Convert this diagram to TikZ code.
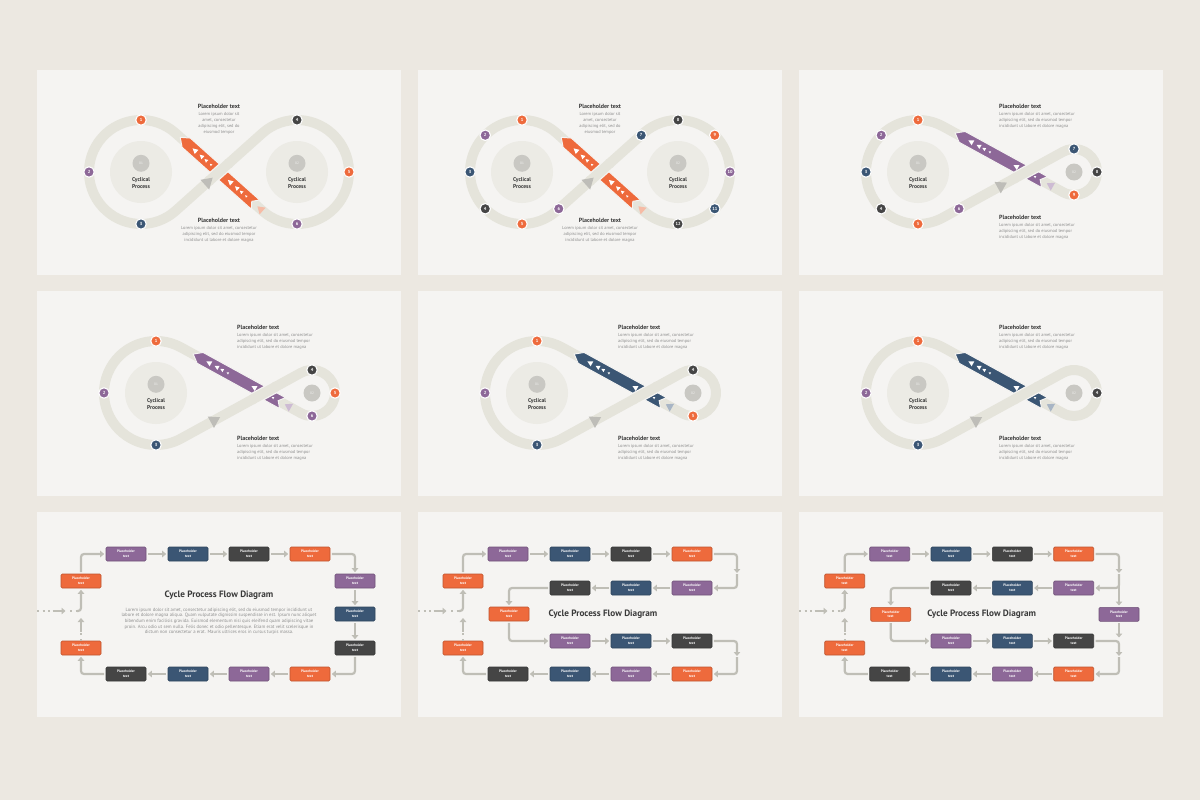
\documentclass[tikz,border=0pt]{standalone}
\usepackage{fontspec}
\setmainfont{PT Sans}
\usetikzlibrary{arrows.meta}
\definecolor{outerbg}{HTML}{ECE8E1}
\definecolor{slidebg}{HTML}{F5F4F2}
\definecolor{trk}{HTML}{E5E4DB}
\definecolor{bigc}{HTML}{ECEBE5}
\definecolor{smallc}{HTML}{C9C8C3}
\definecolor{trigray}{HTML}{BEBDB8}
\definecolor{cor}{HTML}{EE6A3C}
\definecolor{cpu}{HTML}{8D6898}
\definecolor{cnv}{HTML}{3B5674}
\definecolor{cdk}{HTML}{454545}
\definecolor{lor}{HTML}{F6BBA5}
\definecolor{lpu}{HTML}{CDBBD3}
\definecolor{lnv}{HTML}{A8B5C5}
\definecolor{ttl}{HTML}{3A3A3A}
\definecolor{bdy}{HTML}{8E8E8E}
\definecolor{flw}{HTML}{BFBEB6}
\tikzset{
 numn/.style={circle, minimum size=10.5pt, inner sep=0pt, draw=white, line width=1.1pt, text=white, font=\fontsize{4.4}{5}\selectfont\bfseries},
 trackline/.style={draw=trk, line width=10pt},
 bigcirc/.style={circle, fill=bigc, minimum size=62pt, inner sep=0pt},
 smallcirc/.style={circle, fill=smallc, minimum size=17pt, inner sep=0pt, text=white!80!smallc, font=\fontsize{3.4}{4}\selectfont},
 cyctext/.style={font=\fontsize{5.6}{7}\selectfont\bfseries, text=ttl, align=center, inner sep=0pt},
 phtitle/.style={font=\fontsize{6}{7}\selectfont\bfseries, text=ttl, inner sep=0pt},
 phbody/.style={font=\fontsize{4.4}{6}\selectfont, text=bdy, inner sep=0pt},
 pbox/.style={rectangle, rounded corners=1.2pt, minimum width=40pt, minimum height=14pt, inner sep=0pt, line width=0.6pt, text=white, font=\fontsize{3.5}{4.6}\selectfont\bfseries, align=center},
 flow/.style={draw=flw, line width=2.2pt, -{Triangle[length=4pt,width=6.5pt]}, rounded corners=3pt, shorten <=1.5pt, shorten >=1.5pt},
 dots/.style={draw=flw, line width=2.2pt, dash pattern=on 2pt off 3.5pt},
 ftitle/.style={font=\fontsize{9.2}{10}\selectfont\bfseries, text=ttl, inner sep=0pt},
 fbody/.style={font=\fontsize{4.7}{5.6}\selectfont, text=bdy, inner sep=0pt, align=center},
 slide/.style={fill=slidebg}
}
\newcommand{\numdot}[4]{\node[numn, fill=#3] (#1) at (#2) {#4};}
\newcommand{\cycgrp}[3]{%
 \node[bigcirc] (#1b) at (#2,102) {};
 \node[smallcirc] (#1s) at (#2,93.3) {#3};
 \node[cyctext] (#1t) at (#2,113.5) {Cyclical\\Process};}
\newcommand{\symtrack}{\draw[trackline] (138.67,63.24) arc[start angle=-48.19,end angle=-311.81,radius=52] -- (225.33,63.24) arc[start angle=228.19,end angle=491.81,radius=52] -- cycle;}
\newcommand{\symarrow}[2]{%
 \begin{scope}[shift={(182,102)},rotate=221.81]
  \fill[#1, draw=slidebg, line width=1pt] (-49,-6.2) -- (-44,0) -- (-49,6.2) -- (44,6.2) -- (52,0) -- (44,-6.2) -- cycle;
  \foreach \p/\s in {32.6/2.8,23.6/2.3,17.6/1.8,11.1/1.2,-14.7/2.8,-23.7/2.3,-29.7/1.8,-36.2/1.2}{\fill[white] (\p+\s,0) -- (\p-0.9*\s,\s) -- (\p-0.9*\s,-\s) -- cycle;}
  \fill[#2] (-51.5,0) -- (-58.5,4.5) -- (-58.5,-4.5) -- cycle;
 \end{scope}
 \begin{scope}[shift={(182,102)},rotate=-41.81]
  \draw[slidebg, line width=12.5pt] (-12,0) -- (12,0);
  \draw[trackline] (-14,0) -- (14,0);
  \fill[trigray] (-8.5,0) -- (-19,6.5) -- (-19,-6.5) -- cycle;
 \end{scope}}
\newcommand{\asymtrack}{\draw[trackline] (143.99,56.40) arc[start angle=-61.26,end angle=-298.74,radius=52] -- (263.94,81.83) arc[start angle=241.26,end angle=478.74,radius=23] -- cycle;}
\newcommand{\asymarrow}[3]{%
 \begin{scope}[shift={(227.16,102)},rotate=208.74]
  \fill[#1, draw=slidebg, line width=1pt] (-21,-6.2) -- (-16,0) -- (-21,6.2) -- (73,6.2) -- (81,0) -- (73,-6.2) -- cycle;
  \foreach \p/\s in {63.2/2.8,54.2/2.3,48.2/1.8,41.7/1.2,11.7/2.8,2.7/2.3,-3.3/1.8,-9.8/1.2}{\fill[white] (\p+\s,0) -- (\p-0.9*\s,\s) -- (\p-0.9*\s,-\s) -- cycle;}
  \fill[#2] (-23.5,0) -- (-30.5,4.5) -- (-30.5,-4.5) -- cycle;
 \end{scope}
 \begin{scope}[shift={(227.16,102)},rotate=-28.74]
  \draw[slidebg, line width=12.5pt] (-12,0) -- (12,0);
  \draw[trackline] (-14,0) -- (14,0);
  \fill[trigray] (#3+5.5,0) -- (#3-5,6.5) -- (#3-5,-6.5) -- cycle;
 \end{scope}}
\newcommand{\symtexts}[1]{%
 \node[phtitle] (#1ta) at (182,36.7) {Placeholder text};
 \node[phbody, anchor=north, align=center] (#1tb) at (182,41.8) {Lorem ipsum dolor sit\\amet, consectetur\\adipiscing elit, sed do\\eiusmod tempor};
 \node[phtitle] (#1tc) at (182,150) {Placeholder text};
 \node[phbody, anchor=north, align=center] (#1td) at (182,155.8) {Lorem ipsum dolor sit amet, consectetur\\adipiscing elit, sed do eiusmod tempor\\incididunt ut labore et dolore magna};}
\newcommand{\asymtexts}[1]{%
 \node[phtitle, anchor=west] (#1ta) at (200,36.7) {Placeholder text};
 \node[phbody, anchor=north west, align=left] (#1tb) at (200,41.8) {Lorem ipsum dolor sit amet, consectetur\\adipiscing elit, sed do eiusmod tempor\\incididunt ut labore et dolore magna};
 \node[phtitle, anchor=west] (#1tc) at (200,147.7) {Placeholder text};
 \node[phbody, anchor=north west, align=left] (#1td) at (200,152.8) {Lorem ipsum dolor sit amet, consectetur\\adipiscing elit, sed do eiusmod tempor\\incididunt ut labore et dolore magna};}
\newcommand{\flowbox}[3]{\node[pbox, fill=#2, draw=#2!80!black] (#1) at (#3) {Placeholder\\text};}
\newcommand{\entry}[2]{% prefix, x of column
 \coordinate (#1e1) at (0,99); \coordinate (#1e2) at (15,99);
 \coordinate (#1e3) at (15.5,99); \coordinate (#1e4) at (30,99);
 \coordinate (#1e5) at (33,99); \coordinate (#1e6) at (#2-4,99);
 \coordinate (#1e7) at (#2,121); \coordinate (#1e8) at (#2,119.5); \coordinate (#1e9) at (#2,106);
 \draw[dots] (#1e1) -- (#1e2);
 \draw[flow, shorten <=0pt] (#1e3) -- (#1e4);
 \draw[dots] (#1e5) -- (#1e6);
 \draw[flow, shorten <=0pt] (#1e6) -| (#1l1.south);
 \draw[dots] (#1l2.north) -- (#1e7);
 \draw[flow, shorten <=0pt, shorten >=0pt] (#1e8) -- (#1e9);}
\begin{document}
\begin{tikzpicture}[x=1pt,y=1pt,yscale=-1]
\useasboundingbox (0,0) rectangle (1200,800);
\fill[outerbg] (0,0) rectangle (1200,800);
%% Slide 1
\begin{scope}[shift={(37,70)}]
 \fill[slide] (0,0) rectangle (363.5,205);
 \cycgrp{s1c1}{104}{01}
 \cycgrp{s1c2}{260}{02}
 \symtrack
 \symarrow{cor}{lor}
 \numdot{s1n1}{104,50}{cor}{1}
 \numdot{s1n2}{52,102}{cpu}{2}
 \numdot{s1n3}{104,154}{cnv}{3}
 \numdot{s1n4}{260,50}{cdk}{4}
 \numdot{s1n5}{312,102}{cor}{5}
 \numdot{s1n6}{260,154}{cpu}{6}
 \symtexts{s1}
\end{scope}
%% Slide 2
\begin{scope}[shift={(418,70)}]
 \fill[slide] (0,0) rectangle (363.5,205);
 \cycgrp{s2c1}{104}{01}
 \cycgrp{s2c2}{260}{02}
 \symtrack
 \symarrow{cor}{lor}
 \numdot{s2n1}{104,50}{cor}{1}
 \numdot{s2n2}{67.23,65.23}{cpu}{2}
 \numdot{s2n3}{52,102}{cnv}{3}
 \numdot{s2n4}{67.23,138.77}{cdk}{4}
 \numdot{s2n5}{104,154}{cor}{5}
 \numdot{s2n6}{140.77,138.77}{cpu}{6}
 \numdot{s2n7}{223.23,65.23}{cnv}{7}
 \numdot{s2n8}{260,50}{cdk}{8}
 \numdot{s2n9}{296.77,65.23}{cor}{9}
 \numdot{s2n10}{312,102}{cpu}{10}
 \numdot{s2n11}{296.77,138.77}{cnv}{11}
 \numdot{s2n12}{260,154}{cdk}{12}
 \symtexts{s2}
\end{scope}
%% Slide 3
\begin{scope}[shift={(799,70)}]
 \fill[slide] (0,0) rectangle (363.5,205);
 \cycgrp{s3c1}{119}{01}
 \node[smallcirc] (s3c2) at (275,102) {02};
 \asymtrack
 \asymarrow{cpu}{lpu}{-27.5}
 \numdot{s3n1}{119,50}{cor}{1}
 \numdot{s3n2}{82.23,65.23}{cpu}{2}
 \numdot{s3n3}{67,102}{cnv}{3}
 \numdot{s3n4}{82.23,138.77}{cdk}{4}
 \numdot{s3n5}{119,154}{cor}{5}
 \numdot{s3n6}{160,138.8}{cpu}{6}
 \numdot{s3n7}{275,79}{cnv}{7}
 \numdot{s3n8}{298,102}{cdk}{8}
 \numdot{s3n9}{275,125}{cor}{9}
 \asymtexts{s3}
\end{scope}
%% Slide 4
\begin{scope}[shift={(37,291)}]
 \fill[slide] (0,0) rectangle (363.5,205);
 \cycgrp{s4c1}{119}{01}
 \node[smallcirc] (s4c2) at (275,102) {02};
 \asymtrack
 \asymarrow{cpu}{lpu}{-55.8}
 \numdot{s4n1}{119,50}{cor}{1}
 \numdot{s4n2}{67,102}{cpu}{2}
 \numdot{s4n3}{119,154}{cnv}{3}
 \numdot{s4n4}{275,79}{cdk}{4}
 \numdot{s4n5}{298,102}{cor}{5}
 \numdot{s4n6}{275,125}{cpu}{6}
 \asymtexts{s4}
\end{scope}
%% Slide 5
\begin{scope}[shift={(418,291)}]
 \fill[slide] (0,0) rectangle (363.5,205);
 \cycgrp{s5c1}{119}{01}
 \node[smallcirc] (s5c2) at (275,102) {02};
 \asymtrack
 \asymarrow{cnv}{lnv}{-55.8}
 \numdot{s5n1}{119,50}{cor}{1}
 \numdot{s5n2}{67,102}{cpu}{2}
 \numdot{s5n3}{119,154}{cnv}{3}
 \numdot{s5n4}{275,79}{cdk}{4}
 \numdot{s5n5}{275,125}{cor}{5}
 \asymtexts{s5}
\end{scope}
%% Slide 6
\begin{scope}[shift={(799,291)}]
 \fill[slide] (0,0) rectangle (363.5,205);
 \cycgrp{s6c1}{119}{01}
 \node[smallcirc] (s6c2) at (275,102) {02};
 \asymtrack
 \asymarrow{cnv}{lnv}{-55.8}
 \numdot{s6n1}{119,50}{cor}{1}
 \numdot{s6n2}{67,102}{cpu}{2}
 \numdot{s6n3}{119,154}{cnv}{3}
 \numdot{s6n4}{298,102}{cdk}{4}
 \asymtexts{s6}
\end{scope}
%% Slide 7
\begin{scope}[shift={(37,512)}]
 \fill[slide] (0,0) rectangle (363.5,205);
 \flowbox{f7l1}{cor}{44,69}
 \flowbox{f7l2}{cor}{44,136}
 \flowbox{f7t1}{cpu}{89,42}
 \flowbox{f7t2}{cnv}{151,42}
 \flowbox{f7t3}{cdk}{212,42}
 \flowbox{f7t4}{cor}{273,42}
 \flowbox{f7r1}{cpu}{318,69}
 \flowbox{f7r2}{cnv}{318,102}
 \flowbox{f7r3}{cdk}{318,136}
 \flowbox{f7b1}{cor}{273,162}
 \flowbox{f7b2}{cpu}{212,162}
 \flowbox{f7b3}{cnv}{151,162}
 \flowbox{f7b4}{cdk}{89,162}
 \draw[flow] (f7l1.north) |- (f7t1.west);
 \draw[flow] (f7t1.east) -- (f7t2.west);
 \draw[flow] (f7t2.east) -- (f7t3.west);
 \draw[flow] (f7t3.east) -- (f7t4.west);
 \draw[flow] (f7t4.east) -| (f7r1.north);
 \draw[flow] (f7r1.south) -- (f7r2.north);
 \draw[flow] (f7r2.south) -- (f7r3.north);
 \draw[flow] (f7r3.south) |- (f7b1.east);
 \draw[flow] (f7b1.west) -- (f7b2.east);
 \draw[flow] (f7b2.west) -- (f7b3.east);
 \draw[flow] (f7b3.west) -- (f7b4.east);
 \draw[flow] (f7b4.west) -| (f7l2.south);
 \entry{f7}{44}
 \node[ftitle] (f7title) at (182,83) {Cycle Process Flow Diagram};
 \node[fbody, anchor=north] (f7body) at (182,95.8) {Lorem ipsum dolor sit amet, consectetur adipiscing elit, sed do eiusmod tempor incididunt ut\\labore et dolore magna aliqua. Quam vulputate dignissim suspendisse in est. Ipsum nunc aliquet\\bibendum enim facilisis gravida. Euismod elementum nisi quis eleifend quam adipiscing vitae\\proin. Arcu odio ut sem nulla. Felis donec et odio pellentesque. Etiam erat velit scelerisque in\\dictum non consectetur a erat. Mauris ultrices eros in cursus turpis massa.};
\end{scope}
%% Slide 8
\begin{scope}[shift={(418,512)}]
 \fill[slide] (0,0) rectangle (363.5,205);
 \flowbox{f8l1}{cor}{45,69}
 \flowbox{f8l2}{cor}{45,136}
 \flowbox{f8a1}{cpu}{90,42}
 \flowbox{f8a2}{cnv}{152,42}
 \flowbox{f8a3}{cdk}{213,42}
 \flowbox{f8a4}{cor}{274,42}
 \flowbox{f8b1}{cpu}{274,76}
 \flowbox{f8b2}{cnv}{213,76}
 \flowbox{f8b3}{cdk}{152,76}
 \flowbox{f8m}{cor}{91,102}
 \flowbox{f8c1}{cpu}{152,129}
 \flowbox{f8c2}{cnv}{213,129}
 \flowbox{f8c3}{cdk}{274,129}
 \flowbox{f8d1}{cor}{274,162}
 \flowbox{f8d2}{cpu}{213,162}
 \flowbox{f8d3}{cnv}{152,162}
 \flowbox{f8d4}{cdk}{90,162}
 \coordinate (f8p) at (319,61); \coordinate (f8q) at (319,62);
 \coordinate (f8r) at (319,144); \coordinate (f8s) at (319,145);
 \draw[flow] (f8l1.north) |- (f8a1.west);
 \draw[flow] (f8a1.east) -- (f8a2.west);
 \draw[flow] (f8a2.east) -- (f8a3.west);
 \draw[flow] (f8a3.east) -- (f8a4.west);
 \draw[flow, shorten >=0pt] (f8a4.east) -| (f8p);
 \draw[flow, shorten <=0pt] (f8q) |- (f8b1.east);
 \draw[flow] (f8b1.west) -- (f8b2.east);
 \draw[flow] (f8b2.west) -- (f8b3.east);
 \draw[flow] (f8b3.west) -| (f8m.north);
 \draw[flow] (f8m.south) |- (f8c1.west);
 \draw[flow] (f8c1.east) -- (f8c2.west);
 \draw[flow] (f8c2.east) -- (f8c3.west);
 \draw[flow, shorten >=0pt] (f8c3.east) -| (f8r);
 \draw[flow, shorten <=0pt] (f8s) |- (f8d1.east);
 \draw[flow] (f8d1.west) -- (f8d2.east);
 \draw[flow] (f8d2.west) -- (f8d3.east);
 \draw[flow] (f8d3.west) -- (f8d4.east);
 \draw[flow] (f8d4.west) -| (f8l2.south);
 \entry{f8}{45}
 \node[ftitle] (f8title) at (185,102) {Cycle Process Flow Diagram};
\end{scope}
%% Slide 9
\begin{scope}[shift={(799,512)}]
 \fill[slide] (0,0) rectangle (363.5,205);
 \flowbox{f9l1}{cor}{45.7,69}
 \flowbox{f9l2}{cor}{45.7,136}
 \flowbox{f9a1}{cpu}{90.7,42}
 \flowbox{f9a2}{cnv}{152,42}
 \flowbox{f9a3}{cdk}{213.3,42}
 \flowbox{f9a4}{cor}{274.7,42}
 \flowbox{f9b1}{cpu}{274.7,76}
 \flowbox{f9b2}{cnv}{213.3,76}
 \flowbox{f9b3}{cdk}{152,76}
 \flowbox{f9m}{cor}{91.7,102.3}
 \flowbox{f9rp}{cpu}{320,102.3}
 \flowbox{f9c1}{cpu}{152,129}
 \flowbox{f9c2}{cnv}{213.3,129}
 \flowbox{f9c3}{cdk}{274.7,129}
 \flowbox{f9d1}{cor}{274.7,162}
 \flowbox{f9d2}{cpu}{213.3,162}
 \flowbox{f9d3}{cnv}{152,162}
 \flowbox{f9d4}{cdk}{90.7,162}
 \coordinate (f9p) at (320,61); \coordinate (f9q) at (320,62);
 \coordinate (f9u) at (320,125.5);
 \coordinate (f9r) at (320,144); \coordinate (f9s) at (320,145);
 \draw[flow] (f9l1.north) |- (f9a1.west);
 \draw[flow] (f9a1.east) -- (f9a2.west);
 \draw[flow] (f9a2.east) -- (f9a3.west);
 \draw[flow] (f9a3.east) -- (f9a4.west);
 \draw[flow, shorten >=0pt] (f9a4.east) -| (f9p);
 \draw[flow, shorten <=0pt] (f9q) |- (f9b1.east);
 \draw[flow, shorten <=0pt] (f9q) -- (f9rp.north);
 \draw[flow, shorten >=0pt] (f9rp.south) -- (f9u);
 \draw[flow] (f9b1.west) -- (f9b2.east);
 \draw[flow] (f9b2.west) -- (f9b3.east);
 \draw[flow] (f9b3.west) -| (f9m.north);
 \draw[flow] (f9m.south) |- (f9c1.west);
 \draw[flow] (f9c1.east) -- (f9c2.west);
 \draw[flow] (f9c2.east) -- (f9c3.west);
 \draw[flow, shorten >=0pt] (f9c3.east) -| (f9r);
 \draw[flow, shorten <=0pt] (f9s) |- (f9d1.east);
 \draw[flow] (f9d1.west) -- (f9d2.east);
 \draw[flow] (f9d2.west) -- (f9d3.east);
 \draw[flow] (f9d3.west) -- (f9d4.east);
 \draw[flow] (f9d4.west) -| (f9l2.south);
 \entry{f9}{45.7}
 \node[ftitle] (f9title) at (182.7,102.3) {Cycle Process Flow Diagram};
\end{scope}
\end{tikzpicture}
\end{document}
